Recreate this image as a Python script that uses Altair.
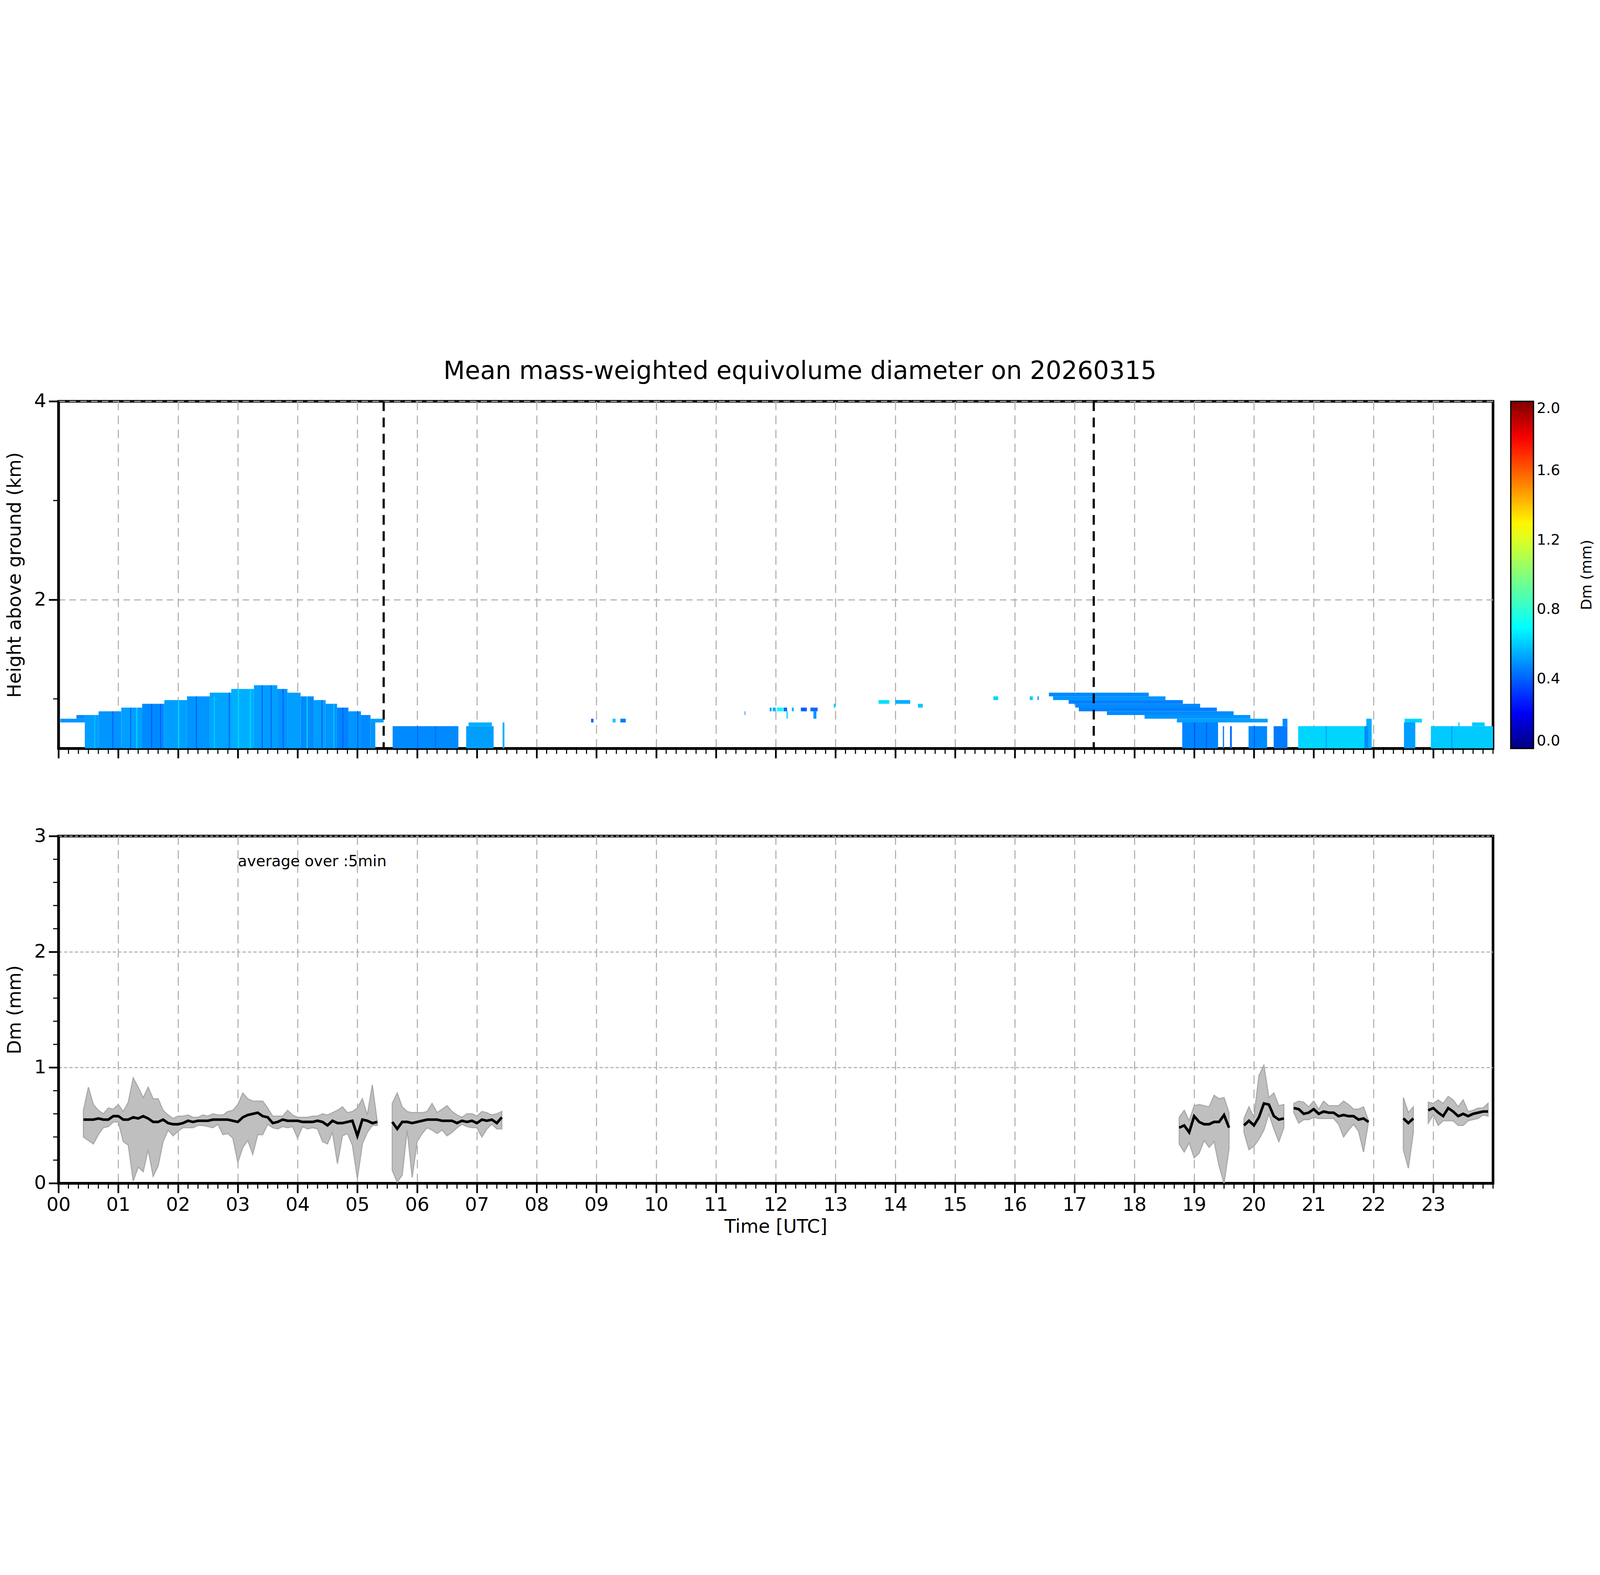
import altair as alt
import pandas as pd

# ---- top panel: radar Dm curtain, (start h, end h, low gate, high gate, Dm mm)
gate_km = 0.0375
heat_t0 = [0.03, 0.30, 0.44, 0.67, 1.05, 1.40, 1.77, 2.15, 2.53, 2.89, 3.27, 3.66, 3.83, 4.05, 4.27,
           4.47, 4.66, 4.85, 5.06, 5.22, 5.22,
           0.90, 1.20, 1.55, 2.30, 2.85, 3.40, 3.75, 4.40, 4.75, 5.00, 2.00, 3.00, 3.20, 4.15, 1.30,
           5.59, 6.82, 6.86, 7.43,
           8.91, 9.27, 9.40, 11.48, 11.90, 11.95, 12.02, 12.13, 12.27, 12.42, 12.58, 12.18, 12.63,
           12.97, 13.72, 14.00, 14.38, 15.64, 16.25, 16.38,
           16.57, 16.64, 16.90, 17.01, 17.07, 17.54, 18.17, 18.71, 20.48, 18.80, 19.48, 19.60,
           19.91, 20.33, 20.74, 21.88, 22.51, 22.52, 22.96, 23.42, 23.65,
           19.00, 19.20, 20.00, 21.85, 0.60, 1.70, 2.60, 3.55, 4.60, 6.00, 6.30, 23.30, 21.20]
heat_t1 = [0.44, 0.44, 0.67, 1.05, 1.40, 1.77, 2.15, 2.53, 2.89, 3.27, 3.66, 3.83, 4.05, 4.27, 4.47,
           4.66, 4.85, 5.06, 5.22, 5.44, 5.30,
           0.915, 1.215, 1.565, 2.315, 2.865, 3.415, 3.765, 4.415, 4.765, 5.015, 2.02, 3.02, 3.22, 4.17, 1.32,
           6.69, 7.28, 7.25, 7.46,
           8.95, 9.32, 9.49, 11.49, 11.93, 12.00, 12.12, 12.19, 12.30, 12.52, 12.70, 12.20, 12.68,
           13.00, 13.90, 14.25, 14.46, 15.72, 16.30, 16.40,
           18.24, 18.52, 18.81, 19.10, 19.38, 19.66, 19.94, 20.23, 20.56, 19.40, 19.50, 19.63,
           20.22, 20.56, 21.91, 21.97, 22.70, 22.81, 24.00, 23.44, 23.86,
           19.015, 19.215, 20.015, 21.91, 0.615, 1.715, 2.615, 3.565, 4.615, 6.015, 6.315, 23.32, 21.22]
heat_lo = [7, 8, 0, 0, 0, 0, 0, 0, 0, 0, 0, 0, 0, 0, 0,
           0, 0, 0, 0, 7, 0,
           0, 0, 0, 0, 0, 0, 0, 0, 0, 0, 0, 0, 0, 0, 0,
           0, 0, 6, 0,
           7, 7, 7, 9, 10, 10, 10, 10, 10, 10, 10, 8, 8,
           11, 12, 12, 11, 13, 13, 13,
           14, 13, 12, 11, 10, 9, 8, 7, 6, 0, 0, 0,
           0, 0, 0, 0, 0, 7, 0, 6, 6,
           0, 0, 0, 0, 0, 0, 0, 0, 0, 0, 0, 0, 0]
heat_hi = [8, 9, 9, 10, 11, 12, 13, 14, 15, 16, 17, 16, 15, 14, 13,
           12, 11, 10, 9, 8, 7,
           10, 11, 12, 14, 15, 17, 16, 13, 11, 10, 13, 16, 16, 14, 11,
           6, 6, 7, 7,
           8, 8, 8, 10, 11, 11, 11, 11, 11, 11, 11, 10, 10,
           12, 13, 13, 12, 14, 14, 14,
           15, 14, 13, 12, 11, 10, 9, 8, 8, 7, 6, 6,
           6, 6, 6, 8, 7, 8, 6, 7, 7,
           7, 7, 6, 6, 9, 12, 14, 17, 12, 6, 6, 6, 6]
heat_dm = [0.50, 0.48, 0.52, 0.50, 0.52, 0.48, 0.52, 0.50, 0.53, 0.55, 0.52, 0.50, 0.52, 0.48, 0.52,
           0.50, 0.47, 0.50, 0.48, 0.52, 0.50,
           0.38, 0.38, 0.38, 0.38, 0.38, 0.38, 0.38, 0.38, 0.38, 0.38, 0.62, 0.62, 0.62, 0.62, 0.62,
           0.48, 0.52, 0.55, 0.55,
           0.40, 0.60, 0.45, 0.40, 0.50, 0.55, 0.70, 0.42, 0.55, 0.40, 0.42, 0.62, 0.50,
           0.60, 0.64, 0.55, 0.60, 0.62, 0.60, 0.50,
           0.48, 0.50, 0.46, 0.48, 0.46, 0.48, 0.50, 0.52, 0.48, 0.47, 0.45, 0.42,
           0.48, 0.45, 0.62, 0.55, 0.52, 0.62, 0.60, 0.60, 0.60,
           0.36, 0.38, 0.38, 0.48, 0.60, 0.38, 0.62, 0.38, 0.62, 0.40, 0.42, 0.52, 0.54]
event_lines = [5.44, 17.32]

# ---- bottom panel: 5-min mean Dm with min/max band, per continuous segment
seg_start = [0 + 25 / 60, 5 + 35 / 60, 18 + 45 / 60, 19 + 50 / 60, 20 + 40 / 60, 22 + 30 / 60, 22 + 55 / 60]
seg_mean = [
    [.55, .55, .55, .56, .55, .55, .58, .58, .55, .55, .57, .56, .58, .56, .53, .53, .55, .52, .51, .51,
     .52, .54, .53, .54, .54, .54, .55, .55, .55, .55, .54, .53, .57, .59, .60, .61, .58, .57, .52, .53,
     .55, .54, .54, .54, .53, .53, .53, .54, .53, .50, .54, .52, .52, .53, .54, .41, .55, .54, .52, .53],
    [.53, .47, .53, .53, .52, .53, .54, .55, .55, .55, .54, .54, .54, .52, .54, .53, .54, .52, .55, .54,
     .55, .52, .57],
    [.48, .50, .44, .58, .53, .51, .51, .53, .53, .59, .48],
    [.50, .54, .50, .57, .69, .68, .58, .55, .56],
    [.65, .64, .60, .61, .64, .60, .62, .61, .61, .58, .59, .58, .58, .55, .56, .53],
    [.56, .52, .56],
    [.63, .65, .61, .58, .65, .62, .58, .60, .58, .60, .61, .62, .62],
]
seg_upper = [
    [.63, .83, .68, .63, .60, .65, .64, .68, .62, .70, .91, .83, .74, .83, .73, .73, .63, .59, .56, .58,
     .58, .59, .57, .57, .59, .58, .60, .59, .59, .62, .63, .68, .78, .73, .71, .71, .71, .65, .58, .58,
     .58, .63, .59, .57, .57, .57, .58, .58, .60, .59, .61, .63, .66, .61, .62, .65, .73, .59, .85, .53],
    [.69, .78, .66, .62, .61, .61, .61, .62, .69, .61, .64, .67, .62, .59, .57, .60, .60, .58, .62, .61,
     .59, .60, .62],
    [.57, .63, .54, .67, .68, .67, .66, .76, .73, .74, .61],
    [.56, .66, .57, .93, 1.02, .74, .78, .67, .68],
    [.69, .71, .70, .66, .71, .64, .71, .67, .67, .67, .71, .68, .64, .64, .66, .54],
    [.74, .61, .66],
    [.70, .69, .72, .69, .75, .72, .66, .72, .62, .63, .65, .65, .69],
]
seg_lower = [
    [.40, .37, .34, .42, .48, .49, .53, .53, .36, .33, .02, .14, .10, .29, .06, .15, .36, .46, .41, .45,
     .48, .48, .48, .50, .50, .49, .48, .51, .42, .43, .39, .18, .31, .37, .25, .42, .42, .51, .48, .47,
     .49, .48, .49, .39, .49, .47, .48, .47, .36, .34, .44, .17, .41, .43, .33, .04, .34, .44, .50, .50],
    [.11, .01, .07, .46, .05, .36, .43, .48, .46, .43, .46, .41, .44, .48, .51, .49, .48, .48, .40, .47,
     .51, .47, .47],
    [.34, .27, .35, .22, .26, .37, .31, .36, .15, .00, .30],
    [.44, .29, .32, .38, .46, .60, .47, .36, .48],
    [.61, .52, .55, .55, .57, .56, .56, .56, .56, .51, .40, .46, .51, .45, .27, .53],
    [.29, .13, .44],
    [.52, .59, .50, .54, .54, .54, .50, .50, .54, .55, .56, .59, .58],
]

heat = pd.DataFrame({
    "t0": heat_t0, "t1": heat_t1,
    "h0": [0.5 + gate_km * g for g in heat_lo],
    "h1": [0.5 + gate_km * g for g in heat_hi],
    "dm": heat_dm,
})
rows = []
for k, start in enumerate(seg_start):
    for i, m in enumerate(seg_mean[k]):
        rows.append({"seg": k, "t": start + i * 5 / 60, "mean": m,
                     "lo": seg_lower[k][i], "hi": seg_upper[k][i]})
dmdf = pd.DataFrame(rows)

W, H = 6630, 1604
FONT = "DejaVu Sans"
hours = list(range(24))
minor_x = pd.DataFrame({"t": [h + m / 6 for h in range(24) for m in range(1, 6)] + [24]})
hour_label = "(datum.value < 10 ? '0' : '') + datum.value"
jet = ["#00007f", "#0000ff", "#00ffff", "#ffff00", "#ff0000", "#7f0000"]

xscale = alt.Scale(domain=[0, 24], nice=False, zero=False)


def x_axis(labels):
    return alt.Axis(values=hours, labels=labels, labelExpr=hour_label, title="Time [UTC]" if labels else None,
                    tickSize=45, tickWidth=8, tickColor="black", domainWidth=12, domainColor="black",
                    grid=True, gridDash=[40, 25], gridColor="#b0b0b0", gridWidth=5,
                    labelFontSize=88, titleFontSize=86, labelPadding=12, titlePadding=15, labelFlush=False)


def y_axis(values, title, dash):
    return alt.Axis(values=values, title=title, format="d", tickSize=45, tickWidth=8, tickColor="black",
                    domainWidth=12, domainColor="black", grid=True, gridDash=dash, gridColor="#b0b0b0",
                    gridWidth=5, labelFontSize=88, titleFontSize=86, labelPadding=12, titlePadding=45)


# top panel
curtain = alt.Chart(heat).mark_rect(clip=True).encode(
    x=alt.X("t0:Q", scale=xscale, axis=x_axis(False)),
    x2="t1:Q",
    y=alt.Y("h0:Q", scale=alt.Scale(domain=[0.5, 4], nice=False, zero=False),
            axis=y_axis([2, 4], "Height above ground (km)", [30, 20])),
    y2="h1:Q",
    color=alt.Color("dm:Q", scale=alt.Scale(domain=[0, 0.22, 0.70, 1.28, 1.78, 2], range=jet,
                                            interpolate="rgb"),
                    legend=alt.Legend(title=None, orient="none", legendX=W + 82, legendY=0,
                                      direction="vertical",
                                      gradientLength=H, gradientThickness=105,
                                      values=[0, 0.4, 0.8, 1.2, 1.6, 2.0], format=".1f",
                                      labelFontSize=68, gradientStrokeColor="black",
                                      gradientStrokeWidth=6, labelOffset=15)),
)
cbar_title = alt.Chart(pd.DataFrame({"s": ["Dm (mm)"]})).mark_text(
    angle=270, fontSize=68, font=FONT, baseline="middle", align="center").encode(
    x=alt.value(W + 435), y=alt.value(H / 2), text="s:N")
events = alt.Chart(pd.DataFrame({"t": event_lines})).mark_rule(
    color="black", strokeWidth=10, strokeDash=[45, 30]).encode(x="t:Q")
top_minor_x = alt.Chart(minor_x).mark_rule(color="black", strokeWidth=5).encode(
    x="t:Q", y=alt.value(H), y2=alt.value(H + 25))
top_minor_y = alt.Chart(pd.DataFrame({"v": [1, 3]})).mark_rule(color="black", strokeWidth=5).encode(
    y="v:Q", x=alt.value(0), x2=alt.value(-25))
top = alt.layer(curtain, events, top_minor_x, top_minor_y, cbar_title).properties(width=W, height=H)

# bottom panel
ybot = alt.Scale(domain=[0, 3], nice=False)
band = alt.Chart(dmdf).mark_area(color="#bfbfbf", stroke="#a8a8a8", strokeWidth=5, opacity=1).encode(
    x=alt.X("t:Q", scale=xscale, axis=x_axis(True)),
    y=alt.Y("lo:Q", scale=ybot, axis=y_axis([0, 1, 2, 3], "Dm (mm)", [15, 10])),
    y2="hi:Q",
    detail="seg:N",
)
mean_line = alt.Chart(dmdf).mark_line(color="black", strokeWidth=12).encode(
    x="t:Q", y="mean:Q", detail="seg:N")
note = alt.Chart(pd.DataFrame({"t": [3.0], "v": [2.78], "s": ["average over :5min"]})).mark_text(
    align="left", baseline="middle", fontSize=70, font=FONT).encode(x="t:Q", y="v:Q", text="s:N")
bot_minor_x = alt.Chart(minor_x).mark_rule(color="black", strokeWidth=5).encode(
    x="t:Q", y=alt.value(H), y2=alt.value(H + 25))
bot_minor_y = alt.Chart(pd.DataFrame({"v": [0.2, 0.4, 0.6, 0.8, 1.2, 1.4, 1.6, 1.8, 2.2, 2.4, 2.6, 2.8]})).mark_rule(
    color="black", strokeWidth=5).encode(y="v:Q", x=alt.value(0), x2=alt.value(-25))
bottom = alt.layer(band, mean_line, note, bot_minor_x, bot_minor_y).properties(width=W, height=H)

chart = alt.vconcat(top, bottom, spacing=300).properties(
    title=alt.TitleParams("Mean mass-weighted equivolume diameter on 20260315", fontSize=115,
                          fontWeight="normal", font=FONT, offset=30, anchor="middle")
).configure(font=FONT).configure_view(stroke="black", strokeWidth=12).configure_axis(
    labelFont=FONT, titleFont=FONT, titleFontWeight="normal", labelColor="black", titleColor="black"
).configure_legend(labelFont=FONT, titleFont=FONT)

chart.save("out.html", embed_options={"renderer": "svg", "actions": False})
